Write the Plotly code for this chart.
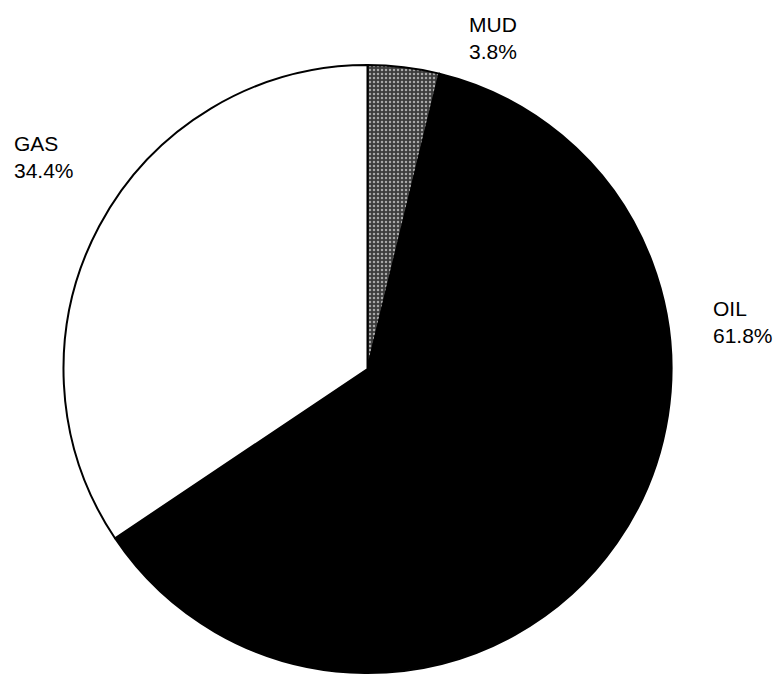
import plotly.graph_objects as go

labels = ["MUD", "OIL", "GAS"]
values = [3.8, 61.8, 34.4]
colors = ["#4a4a4a", "#000000", "#ffffff"]

W, H = 776, 677
# pie circle bounds in pixels
x0, x1 = 63, 672
ytop, ybot = 65, 673

fig = go.Figure()
fig.add_trace(go.Pie(
    labels=labels,
    values=values,
    sort=False,
    direction="clockwise",
    rotation=0,
    textinfo="none",
    hoverinfo="label+percent",
    marker=dict(
        colors=colors,
        line=dict(color="#000000", width=2),
        pattern=dict(
            shape=[".", "", ""],
            bgcolor=["#3c3c3c", "#000000", "#ffffff"],
            fgcolor=["#a8a8a8", "#000000", "#ffffff"],
            fillmode="replace",
            size=4, solidity=0.3,
        ),
    ),
    domain=dict(x=[x0 / W, x1 / W], y=[(H - ybot) / H, (H - ytop) / H]),
    showlegend=False,
))

# label positions (top-left corner, pixels)
label_pos = {"MUD": (467, 11), "GAS": (12, 130), "OIL": (711, 295)}
total = sum(values)
for lab, val in zip(labels, values):
    px, py = label_pos[lab]
    fig.add_annotation(
        x=px / W, y=1 - py / H, xref="paper", yref="paper",
        xanchor="left", yanchor="top", align="left", showarrow=False,
        text=f"{lab}<br>{val / total * 100:.1f}%",
        font=dict(family="Liberation Sans, Arial, sans-serif", size=21, color="#000000"),
    )

fig.update_layout(
    width=W, height=H,
    margin=dict(l=0, r=0, t=0, b=0),
    paper_bgcolor="white", plot_bgcolor="white",
)
fig.write_html(
    "out.html",
    config={"displayModeBar": False},
    post_script="document.body.style.margin='0';document.body.style.overflow='hidden';",
)
